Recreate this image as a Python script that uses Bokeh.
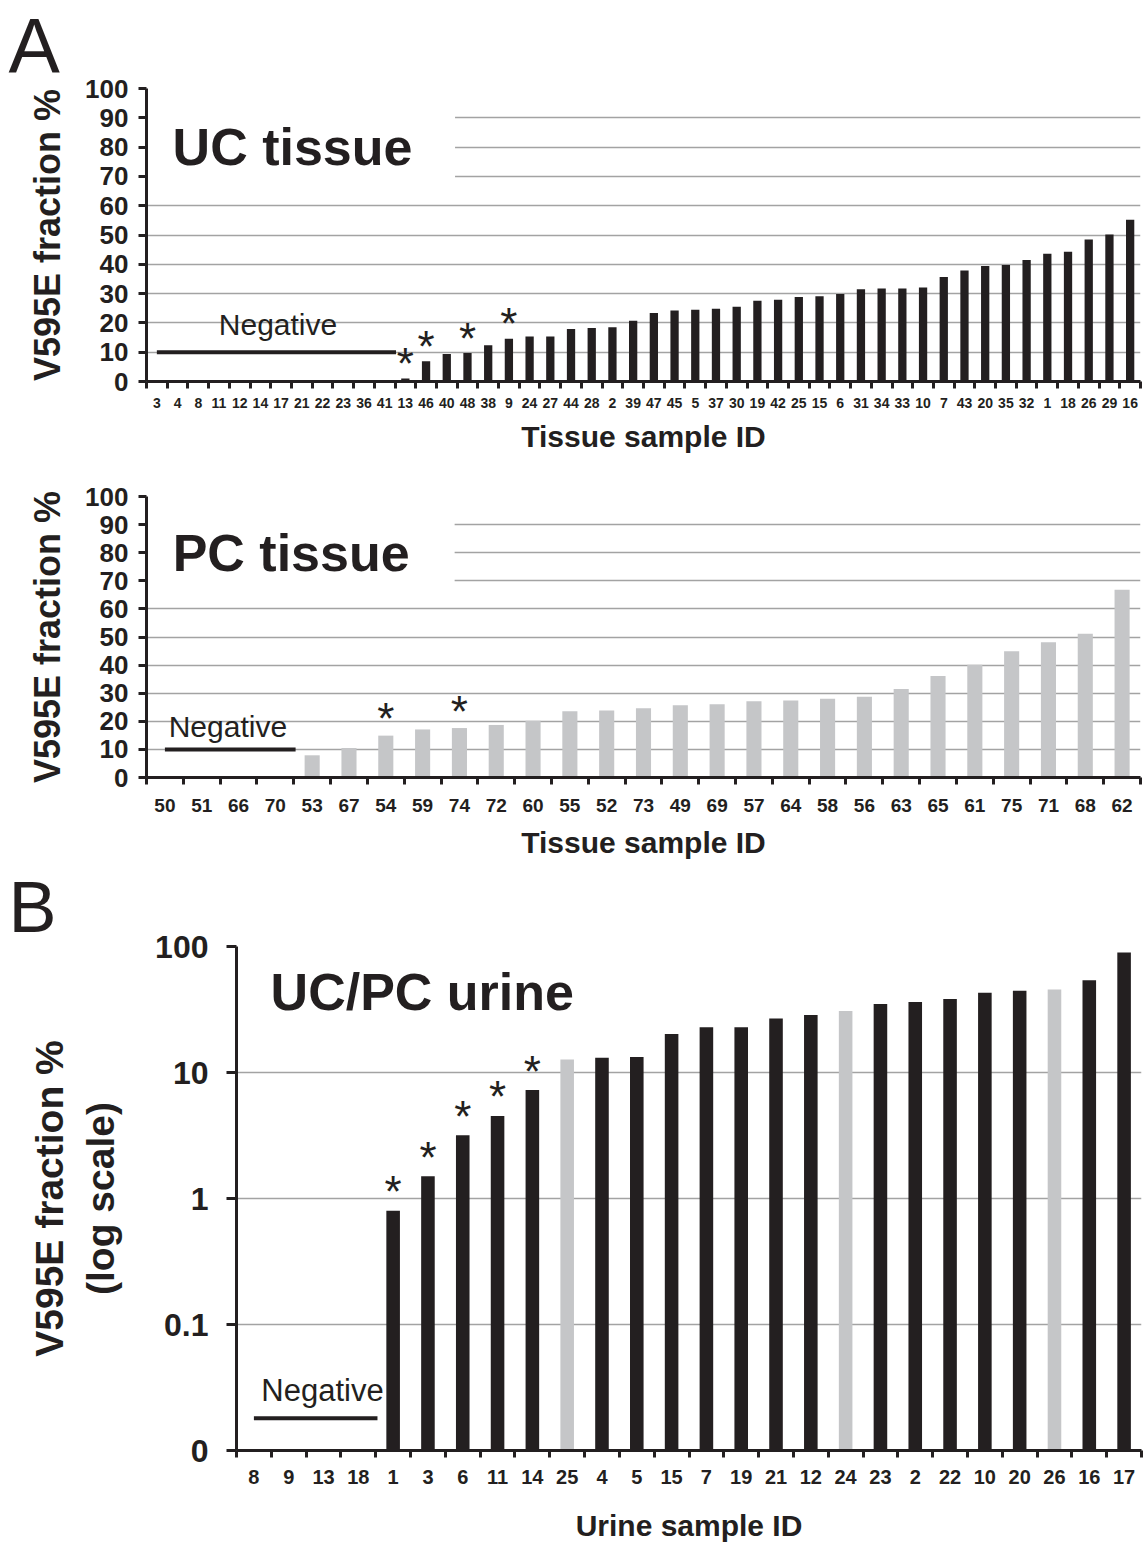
import numpy as np
from bokeh.plotting import figure
from bokeh.models import FixedTicker, Range1d, CustomJSTickFormatter
from bokeh.layouts import column
from bokeh.core.properties import value
from bokeh.embed import file_html
from bokeh.resources import INLINE

FONT = "Liberation Sans"
BLACK = "#231f20"
GREY = "#c5c6c8"
GRID = "#a3a3a3"

# ---------------- data ----------------
# Panel A, UC tissue
UC_NEG_IDS = ["3", "4", "8", "11", "12", "14", "17", "21", "22", "23", "36", "41"]
UC_POS_IDS = ["13", "46", "40", "48", "38", "9", "24", "27", "44", "28", "2", "39",
              "47", "45", "5", "37", "30", "19", "42", "25", "15", "6", "31", "34",
              "33", "10", "7", "43", "20", "35", "32", "1", "18", "26", "29", "16"]
UC_POS_VALUES = [1.0, 6.9, 9.4, 9.7, 12.4, 14.6, 15.4, 15.4, 17.9, 18.3, 18.5, 20.7,
                 23.4, 24.2, 24.5, 24.8, 25.5, 27.6, 27.9, 28.8, 29.1, 29.9, 31.5, 31.7,
                 31.7, 32.1, 35.7, 37.9, 39.4, 39.8, 41.5, 43.6, 44.3, 48.5, 50.2, 55.2]
UC_STARRED = ["13", "46", "48", "9"]

# Panel A, PC tissue
PC_NEG_IDS = ["50", "51", "66", "70"]
PC_POS_IDS = ["53", "67", "54", "59", "74", "72", "60", "55", "52", "73", "49", "69",
              "57", "64", "58", "56", "63", "65", "61", "75", "71", "68", "62"]
PC_POS_VALUES = [7.9, 10.5, 14.9, 17.1, 17.6, 18.7, 20.2, 23.6, 23.8, 24.6, 25.7, 26.1,
                 27.1, 27.4, 28.0, 28.7, 31.5, 36.1, 40.1, 44.9, 48.1, 51.2, 66.8]
PC_STARRED = ["54", "74"]

# Panel B, UC/PC urine (log scale)
UR_NEG_IDS = ["8", "9", "13", "18"]
UR_POS_IDS = ["1", "3", "6", "11", "14", "25", "4", "5", "15", "7", "19", "21", "12",
              "24", "23", "2", "22", "10", "20", "26", "16", "17"]
UR_POS_VALUES = [0.80, 1.50, 3.18, 4.52, 7.25, 12.7, 13.1, 13.3, 20.2, 22.9, 22.9, 26.8,
                 28.6, 30.8, 35.0, 36.3, 38.3, 42.9, 44.5, 45.6, 54.0, 89.5]
UR_PC_IDS = ["25", "24", "26"]          # grey bars (PC samples)
UR_STARRED = ["1", "3", "6", "11", "14"]

LIN_TICKS = list(range(0, 101, 10))
LOG_TICKS = [0.01, 0.1, 1, 10, 100]
NEG_LEVEL_LIN = 10
NEG_LEVEL_LOG = 0.018
LOG_FLOOR = 0.01

W = 1144


def base_figure(ids, height, y_range, borders, log=False):
    n = len(ids)
    kw = dict(width=W, height=height, x_range=Range1d(0.5, n + 0.5), y_range=y_range,
              output_backend="svg", toolbar_location=None, frame_align=False,
              min_border_left=borders[0], min_border_right=borders[1],
              min_border_top=borders[2], min_border_bottom=borders[3])
    if log:
        kw["y_axis_type"] = "log"
    p = figure(**kw)
    p.outline_line_color = None
    p.background_fill_color = "white"
    p.border_fill_color = "white"
    p.xgrid.visible = False
    p.ygrid.grid_line_color = GRID
    p.ygrid.grid_line_width = 1.5

    xs = list(range(1, n + 1))
    ax = p.xaxis[0]
    ax.ticker = FixedTicker(ticks=xs, minor_ticks=[x - 0.5 for x in xs] + [n + 0.5])
    ax.major_label_overrides = {x: lab for x, lab in zip(xs, ids)}
    ax.major_tick_out = 0
    ax.major_tick_in = 0
    ax.minor_tick_out = 7
    ax.minor_tick_in = 0
    ax.minor_tick_line_width = 3
    ax.minor_tick_line_color = BLACK
    ax.axis_line_width = 3
    ax.axis_line_color = BLACK
    ax.major_label_text_font = FONT
    ax.major_label_text_font_style = "bold"
    ax.major_label_text_color = BLACK
    ax.axis_label_text_font = FONT
    ax.axis_label_text_font_style = "bold"
    ax.axis_label_text_color = BLACK

    ay = p.yaxis[0]
    ay.axis_line_width = 3
    ay.axis_line_color = BLACK
    ay.major_tick_line_width = 3
    ay.major_tick_line_color = BLACK
    ay.major_tick_in = 0
    ay.minor_tick_out = 0
    ay.minor_tick_in = 0
    ay.major_label_text_font = FONT
    ay.major_label_text_font_style = "bold"
    ay.major_label_text_color = BLACK
    ay.axis_label_text_font = FONT
    ay.axis_label_text_font_style = "bold"
    ay.axis_label_text_color = BLACK
    return p


def panel_letter(p, letter, size, offset):
    p.title.text = letter
    p.title.text_font = FONT
    p.title.text_font_size = size
    p.title.text_font_style = "normal"
    p.title.text_color = BLACK
    p.title.align = "left"
    p.title.offset = offset
    p.title.standoff = 0


def add_bars(p, neg_ids, pos_ids, pos_vals, colors, width, bottom):
    n_neg = len(neg_ids)
    xs = [n_neg + 1 + i for i in range(len(pos_ids))]
    p.vbar(x=xs, top=pos_vals, bottom=bottom, width=width, fill_color=colors,
           line_color=None)


def add_stars(p, neg_ids, pos_ids, pos_vals, starred, y_off):
    n_neg = len(neg_ids)
    sx, sy = [], []
    for i, sid in enumerate(pos_ids):
        if sid in starred:
            sx.append(n_neg + 1 + i)
            sy.append(pos_vals[i])
    p.text(x=sx, y=sy, text=["*"] * len(sx), text_font=value(FONT),
           text_font_size="44px", text_align="center", text_baseline="alphabetic",
           y_offset=y_off, text_color=BLACK)


def add_negative(p, n_neg, level, label_x, label_y, font_size):
    p.segment(x0=[1.0], x1=[n_neg + 0.55], y0=[level], y1=[level],
              line_color=BLACK, line_width=4)
    p.text(x=[label_x], y=[label_y], text=["Negative"], text_font=value(FONT),
           text_font_size=font_size, text_align="center", text_baseline="middle",
           text_color=BLACK)


def add_title(p, x, y, txt):
    p.text(x=[x], y=[y], text=[txt], text_font=value(FONT), text_font_size="52px",
           text_font_style="bold", text_align="left", text_baseline="middle",
           text_color=BLACK)


# ---------------- Panel A: UC tissue ----------------
uc_ids = UC_NEG_IDS + UC_POS_IDS
p1 = base_figure(uc_ids, 460, Range1d(0, 100), (146, 4, 88, 79))
panel_letter(p1, "A", "77px", -138)
p1.yaxis.ticker = FixedTicker(ticks=LIN_TICKS)
p1.yaxis.major_tick_out = 8
p1.yaxis.major_label_text_font_size = "26px"
p1.yaxis.major_label_standoff = 10
p1.yaxis.axis_label = "V595E fraction %"
p1.yaxis.axis_label_text_font_size = "36px"
p1.yaxis.axis_label_standoff = 14
p1.xaxis.major_label_text_font_size = "14px"
p1.xaxis.major_label_standoff = 9
p1.xaxis.axis_label = "Tissue sample ID"
p1.xaxis.axis_label_text_font_size = "30px"
p1.xaxis.axis_label_standoff = 9
p1.quad(left=[0.5], right=[15.4], bottom=[63.5], top=[105], fill_color="white",
        line_color=None)
add_bars(p1, UC_NEG_IDS, UC_POS_IDS, UC_POS_VALUES, [BLACK] * len(UC_POS_IDS), 0.4, 0)
add_stars(p1, UC_NEG_IDS, UC_POS_IDS, UC_POS_VALUES, UC_STARRED, -15)
add_negative(p1, len(UC_NEG_IDS), NEG_LEVEL_LIN, 6.85, 19.5, "30px")
add_title(p1, 1.76, 80, "UC tissue")

# ---------------- Panel A: PC tissue ----------------
pc_ids = PC_NEG_IDS + PC_POS_IDS
p2 = base_figure(pc_ids, 404, Range1d(0, 100), (146, 4, 36, 87))
p2.yaxis.ticker = FixedTicker(ticks=LIN_TICKS)
p2.yaxis.major_tick_out = 8
p2.yaxis.major_label_text_font_size = "26px"
p2.yaxis.major_label_standoff = 10
p2.yaxis.axis_label = "V595E fraction %"
p2.yaxis.axis_label_text_font_size = "36px"
p2.yaxis.axis_label_standoff = 14
p2.xaxis.major_label_text_font_size = "19px"
p2.xaxis.major_label_standoff = 14
p2.xaxis.axis_label = "Tissue sample ID"
p2.xaxis.axis_label_text_font_size = "30px"
p2.xaxis.axis_label_standoff = 11
p2.quad(left=[0.5], right=[8.87], bottom=[64.6], top=[105], fill_color="white",
        line_color=None)
add_bars(p2, PC_NEG_IDS, PC_POS_IDS, PC_POS_VALUES, [GREY] * len(PC_POS_IDS), 0.41, 0)
add_stars(p2, PC_NEG_IDS, PC_POS_IDS, PC_POS_VALUES, PC_STARRED, -17)
add_negative(p2, len(PC_NEG_IDS), NEG_LEVEL_LIN, 2.71, 18.2, "30px")
add_title(p2, 1.21, 80, "PC tissue")

# ---------------- Panel B: urine ----------------
ur_ids = UR_NEG_IDS + UR_POS_IDS
p3 = base_figure(ur_ids, 680, Range1d(LOG_FLOOR, 100), (236, 3, 80, 93), log=True)
panel_letter(p3, "B", "72px", -228)
p3.yaxis.ticker = FixedTicker(ticks=LOG_TICKS, minor_ticks=[])
p3.yaxis.formatter = CustomJSTickFormatter(
    code="return (tick < 0.05) ? '0' : String(tick);")
p3.yaxis.major_tick_out = 10
p3.yaxis.major_label_text_font_size = "32px"
p3.yaxis.major_label_standoff = 18
p3.yaxis.axis_label = "V595E fraction %\n(log scale)"
p3.yaxis.axis_label_text_font_size = "39px"
p3.yaxis.axis_label_standoff = 30
p3.xaxis.major_label_text_font_size = "20px"
p3.xaxis.major_label_standoff = 12
p3.xaxis.axis_label = "Urine sample ID"
p3.xaxis.axis_label_text_font_size = "30px"
p3.xaxis.axis_label_standoff = 22
ur_colors = [GREY if sid in UR_PC_IDS else BLACK for sid in UR_POS_IDS]
add_bars(p3, UR_NEG_IDS, UR_POS_IDS, UR_POS_VALUES, ur_colors, 0.39, LOG_FLOOR)
add_stars(p3, UR_NEG_IDS, UR_POS_IDS, UR_POS_VALUES, UR_STARRED, -19)
add_negative(p3, len(UR_NEG_IDS), NEG_LEVEL_LOG, 2.97, 0.0297, "31px")
add_title(p3, 1.48, 43.4, "UC/PC urine")

layout = column(p1, p2, p3, spacing=0)
open("out.html", "w").write(file_html(layout, INLINE))
